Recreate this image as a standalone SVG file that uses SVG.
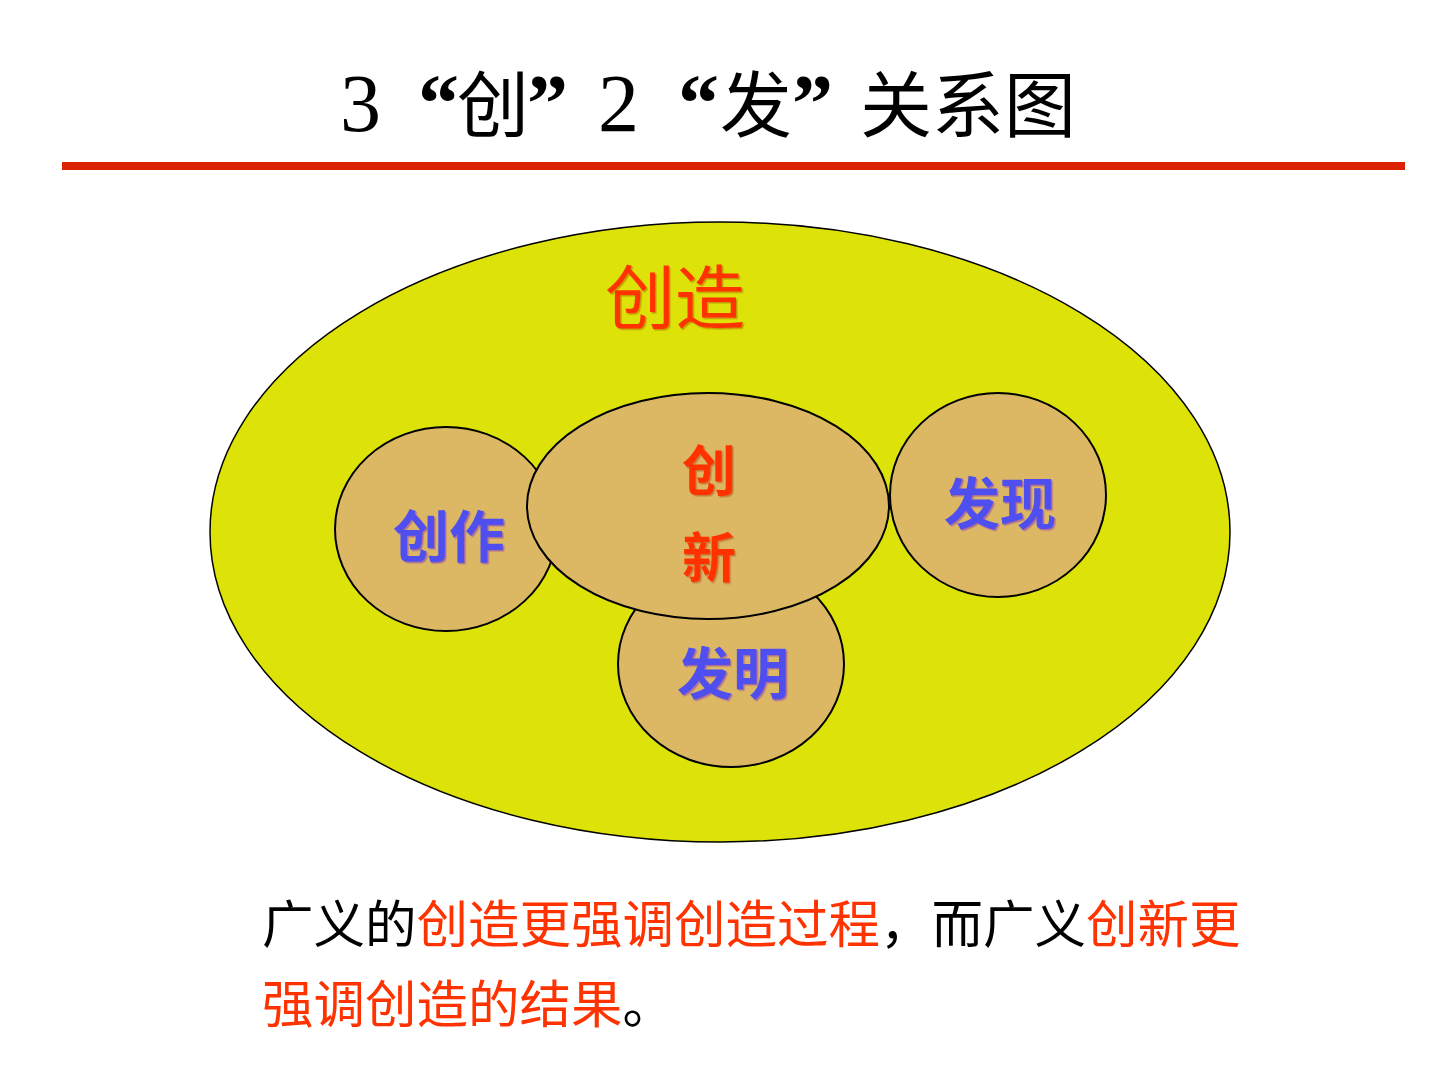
<svg xmlns="http://www.w3.org/2000/svg" width="1440" height="1080" viewBox="0 0 1440 1080">
<defs>
<style>
.cjk{font-family:"Noto Sans CJK SC","Noto Sans",sans-serif;}
.lat{font-family:"Liberation Serif","Noto Sans CJK SC",serif;}
.title{fill:#000;}
.blob{fill:#dcb865;stroke:#000;stroke-width:2;}
.lbl-b{fill:#4f4ff0;font-weight:bold;font-size:56px;text-anchor:middle;}
.lbl-r{fill:#ff3300;font-weight:bold;font-size:54px;text-anchor:middle;}
.red{fill:#ff3300;}
.blk{fill:#000;}
</style>
<filter id="sh" x="-10%" y="-10%" width="130%" height="130%">
<feDropShadow dx="1.5" dy="1.5" stdDeviation="0.4" flood-color="#9040b0" flood-opacity="0.6"/>
</filter>
<filter id="shr" x="-10%" y="-10%" width="130%" height="130%">
<feDropShadow dx="1.5" dy="1.5" stdDeviation="0.4" flood-color="#a02000" flood-opacity="0.4"/>
</filter>
</defs>
<rect width="1440" height="1080" fill="#fff"/>

<g id="title">
<text class="lat title" x="340" y="131" font-size="82">3</text>
<text class="lat title" x="418" y="131" font-size="82" font-weight="bold">“</text>
<text class="cjk title" x="457" y="131" font-size="72">创</text>
<text class="lat title" x="527" y="131" font-size="82" font-weight="bold">”</text>
<text class="lat title" x="598" y="131" font-size="82">2</text>
<text class="lat title" x="678" y="131" font-size="82" font-weight="bold">“</text>
<text class="cjk title" x="720" y="131" font-size="72">发</text>
<text class="lat title" x="792" y="131" font-size="82" font-weight="bold">”</text>
<text class="cjk title" x="860" y="131" font-size="72">关系图</text>
</g>
<rect id="rule" x="62" y="162" width="1343" height="8" fill="#dd2200"/>

<g id="chuangzao">
<ellipse cx="720" cy="532" rx="510" ry="310" fill="#dde308" stroke="#000" stroke-width="1.5"/>
<text class="cjk red" x="675" y="324" font-size="70" text-anchor="middle" filter="url(#shr)">创造</text>
</g>

<g id="chuangzuo">
<ellipse class="blob" cx="446" cy="529" rx="111" ry="102"/>
<text class="cjk lbl-b" x="449" y="557" filter="url(#sh)">创作</text>
</g>

<g id="faming">
<ellipse class="blob" cx="731" cy="664" rx="113" ry="103"/>
<text class="cjk lbl-b" x="733" y="694" filter="url(#sh)">发明</text>
</g>

<g id="chuangxin">
<ellipse class="blob" cx="708" cy="506" rx="181" ry="113"/>
<text class="cjk lbl-r" x="709" y="491" filter="url(#shr)">创</text>
<text class="cjk lbl-r" x="709" y="578" filter="url(#shr)">新</text>
</g>

<g id="faxian">
<ellipse class="blob" cx="998" cy="495" rx="108" ry="102"/>
<text class="cjk lbl-b" x="1000" y="524" filter="url(#sh)">发现</text>
</g>

<g id="connectors"></g>

<g id="note" class="cjk" font-size="51.5">
<text x="262" y="943"><tspan class="blk">广义的</tspan><tspan class="red">创造更强调创造过程</tspan><tspan class="blk">，而广义</tspan><tspan class="red">创新更</tspan></text>
<text x="262" y="1023"><tspan class="red">强调创造的结果</tspan><tspan class="blk">。</tspan></text>
</g>
</svg>
